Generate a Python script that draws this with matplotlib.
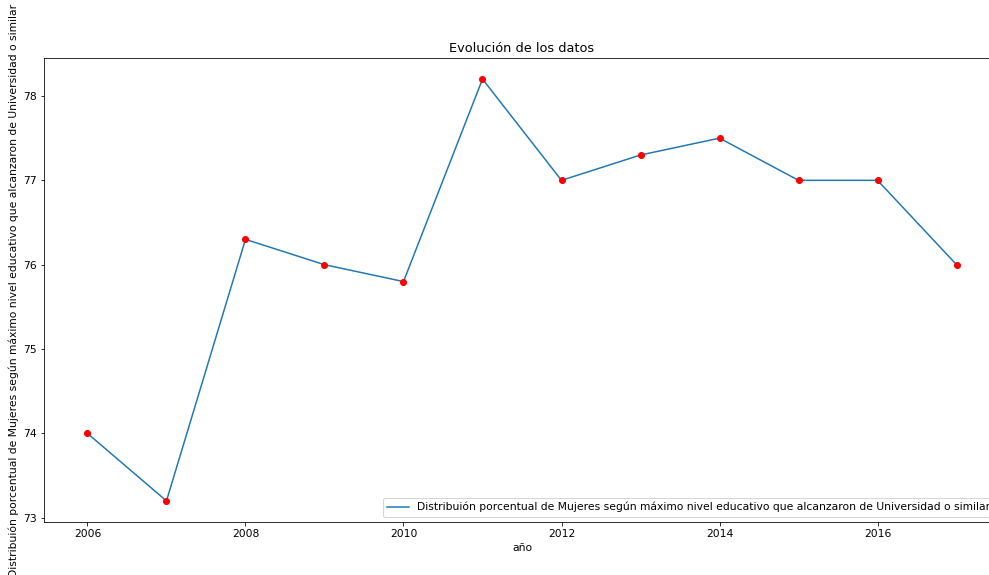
import matplotlib
matplotlib.use("Agg")
import matplotlib.pyplot as plt

years = [2006, 2007, 2008, 2009, 2010, 2011, 2012, 2013, 2014, 2015, 2016, 2017]
values = [74.0, 73.2, 76.3, 76.0, 75.8, 78.2, 77.0, 77.3, 77.5, 77.0, 77.0, 76.0]
series_label = ("Distribuión porcentual de Mujeres según máximo nivel educativo "
                "que alcanzaron de Universidad o similar")

plt.rcParams["font.size"] = 10.7

DPI = 72
fig = plt.figure(figsize=(989 / DPI, 575 / DPI), dpi=DPI)
ax = fig.add_axes([44 / 989, 1 - 522 / 575, (1000 - 44) / 989, (522 - 58) / 575])

ax.plot(years, values, label=series_label)
ax.scatter(years, values, color="red", zorder=3)

ax.set_title("Evolución de los datos")
ax.set_xlabel("año")
ax.set_ylabel(series_label)
ax.legend(loc="lower right")

fig.savefig("out.png", dpi=DPI)
